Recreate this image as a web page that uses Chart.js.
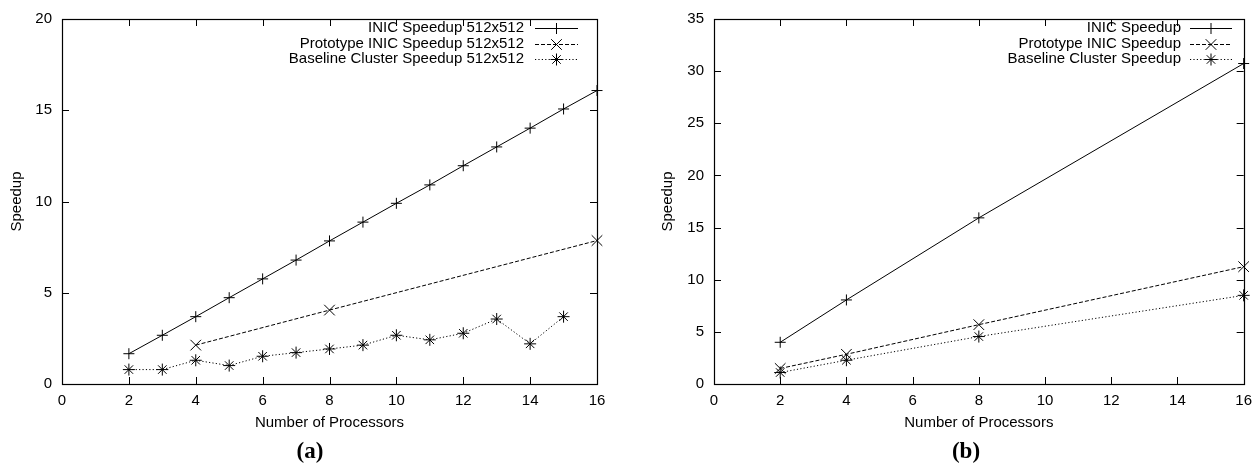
<!DOCTYPE html>
<html>
<head>
<meta charset="utf-8">
<script src="https://cdn.jsdelivr.net/npm/chart.js@4/dist/chart.umd.min.js"></script>
<style>
  html, body { margin:0; padding:0; background:#fff; }
  #wrap { position:relative; width:1260px; height:467px; }
  .box { position:absolute; top:0; width:630px; height:467px; }
  .cap { position:absolute; font-family:"Liberation Serif","Times New Roman",serif; font-weight:bold; font-size:23px; color:#000; transform:translate(-50%,-50%); white-space:nowrap; }
</style>
</head>
<body>
<div id="wrap">
  <div class="box" style="left:0"><canvas id="ca" width="630" height="467"></canvas></div>
  <div class="box" style="left:630px"><canvas id="cb" width="630" height="467"></canvas></div>
  <div class="cap" style="left:310px; top:451px">(a)</div>
  <div class="cap" style="left:966px; top:451px">(b)</div>
</div>
<script>
// ---- Data: chart (a) ----
const procsA = [2,3,4,5,6,7,8,9,10,11,12,13,14,15,16];
const inicA = [1.66,2.67,3.69,4.73,5.76,6.79,7.84,8.87,9.9,10.91,11.96,12.99,14.02,15.07,16.08];
const protoProcsA = [4,8,16];
const protoA = [2.13,4.05,7.86];
const baseProcsA = [2,3,4,5,6,7,8,9,10,11,12,13,14,15];
const baseA = [0.79,0.79,1.3,1.01,1.52,1.72,1.92,2.13,2.67,2.42,2.78,3.56,2.2,3.69];
const labelsA = ['INIC Speedup 512x512','Prototype INIC Speedup 512x512','Baseline Cluster Speedup 512x512'];

// ---- Data: chart (b) ----
const procsB = [2,4,8,16];
const inicB = [4.0,8.06,15.93,30.73];
const protoB = [1.49,2.85,5.69,11.25];
const baseB = [1.1,2.28,4.55,8.5];
const labelsB = ['INIC Speedup','Prototype INIC Speedup','Baseline Cluster Speedup'];

// ---- Axis ticks ----
const xTickStep = 2, xMin = 0, xMax = 16;
const yTickStep = 5;
const yMaxA = 20, yMaxB = 35;
const xTitle = 'Number of Processors';
const yTitle = 'Speedup';

const FONT = "'Liberation Sans', Arial, Helvetica, sans-serif";
const FS = 15;
Chart.defaults.font.family = FONT;
Chart.defaults.font.size = FS;
Chart.defaults.color = '#000';

function pts(xs, ys){ return xs.map((x,i)=>({x:x, y:ys[i]})); }

const styles = [
  {pointStyle:'cross', pointRadius:5.5, borderDash:[]},
  {pointStyle:'crossRot', pointRadius:7.5, borderDash:[4,2]},
  {pointStyle:'star', pointRadius:6, borderDash:[1.2,2.2]}
];

function mkDataset(label, data, s){
  return {
    label, data, showLine:true, borderColor:'#000', backgroundColor:'rgba(0,0,0,0)',
    borderWidth:1, borderDash:s.borderDash, pointStyle:s.pointStyle, pointRadius:s.pointRadius,
    pointHoverRadius:s.pointRadius, pointBorderColor:'#000', pointBorderWidth:1, clip:false,
    tension:0
  };
}

function drawMarker(ctx, style, r, x, y){
  ctx.save();
  ctx.strokeStyle = '#000'; ctx.lineWidth = 1; ctx.setLineDash([]);
  ctx.beginPath();
  const d = r*Math.SQRT1_2;
  if (style === 'cross' || style === 'star'){
    ctx.moveTo(x-r,y); ctx.lineTo(x+r,y); ctx.moveTo(x,y-r); ctx.lineTo(x,y+r);
  }
  if (style === 'crossRot' || style === 'star'){
    ctx.moveTo(x-d,y-d); ctx.lineTo(x+d,y+d); ctx.moveTo(x-d,y+d); ctx.lineTo(x+d,y-d);
  }
  ctx.stroke();
  ctx.restore();
}

// Gnuplot-like frame with inward ticks on all sides
const framePlugin = {
  id:'frame',
  beforeDatasetsDraw(chart){
    const {ctx, chartArea:a, scales:{x, y}} = chart;
    ctx.save();
    ctx.strokeStyle = '#000'; ctx.lineWidth = 1.2;
    ctx.strokeRect(Math.round(a.left)+0.5, Math.round(a.top)+0.5, Math.round(a.right-a.left), Math.round(a.bottom-a.top));
    ctx.lineWidth = 1;
    const tl = 7;
    ctx.beginPath();
    x.ticks.forEach(t=>{
      const px = Math.round(x.getPixelForValue(t.value))+0.5;
      ctx.moveTo(px, a.bottom); ctx.lineTo(px, a.bottom-tl);
      ctx.moveTo(px, a.top); ctx.lineTo(px, a.top+tl);
    });
    y.ticks.forEach(t=>{
      const py = Math.round(y.getPixelForValue(t.value))+0.5;
      ctx.moveTo(a.left, py); ctx.lineTo(a.left+tl, py);
      ctx.moveTo(a.right, py); ctx.lineTo(a.right-tl, py);
    });
    ctx.stroke();
    ctx.restore();
  }
};

// Gnuplot-like key: right-aligned text, sample line with marker
function keyPlugin(textRight, sx1, sx2, rows){
  return {
    id:'gkey',
    afterDatasetsDraw(chart){
      const ctx = chart.ctx;
      chart.data.datasets.forEach((ds,i)=>{
        const yy = rows[i];
        ctx.save();
        ctx.font = FS + 'px ' + FONT;
        ctx.fillStyle = '#000';
        ctx.textAlign = 'right'; ctx.textBaseline = 'middle';
        ctx.fillText(ds.label, textRight, yy);
        ctx.strokeStyle = '#000'; ctx.lineWidth = 1;
        ctx.setLineDash(ds.borderDash || []);
        ctx.beginPath(); ctx.moveTo(sx1, yy+0.5); ctx.lineTo(sx2, yy+0.5); ctx.stroke();
        ctx.restore();
        drawMarker(ctx, ds.pointStyle, ds.pointRadius, (sx1+sx2)/2, yy+0.5);
      });
    }
  };
}

function makeChart(id, datasets, yMax, pad, yAxisW, key){
  return new Chart(document.getElementById(id), {
    type:'scatter',
    data:{datasets},
    options:{
      responsive:false, animation:false, events:[],
      layout:{padding:pad, autoPadding:false},
      plugins:{legend:{display:false}, tooltip:{enabled:false}},
      scales:{
        x:{
          type:'linear', min:xMin, max:xMax,
          ticks:{stepSize:xTickStep, padding:8, font:{size:FS}, color:'#000', maxRotation:0},
          grid:{display:false, drawTicks:false}, border:{display:false},
          title:{display:true, text:xTitle, font:{size:FS}, color:'#000', padding:0},
          afterFit(s){ s.height = 48; }
        },
        y:{
          type:'linear', min:0, max:yMax,
          ticks:{stepSize:yTickStep, padding:10, font:{size:FS}, color:'#000'},
          grid:{display:false, drawTicks:false}, border:{display:false},
          title:{display:true, text:yTitle, font:{size:FS}, color:'#000', padding:0},
          afterFit(s){ s.width = yAxisW; }
        }
      }
    },
    plugins:[framePlugin, key]
  });
}

makeChart('ca', [
  mkDataset(labelsA[0], pts(procsA, inicA), styles[0]),
  mkDataset(labelsA[1], pts(protoProcsA, protoA), styles[1]),
  mkDataset(labelsA[2], pts(baseProcsA, baseA), styles[2])
], yMaxA, {left:8, right:33, top:15, bottom:35}, 54, keyPlugin(524, 535, 578, [28,44,59]));

makeChart('cb', [
  mkDataset(labelsB[0], pts(procsB, inicB), styles[0]),
  mkDataset(labelsB[1], pts(procsB, protoB), styles[1]),
  mkDataset(labelsB[2], pts(procsB, baseB), styles[2])
], yMaxB, {left:29, right:10, top:15, bottom:35}, 55, keyPlugin(551, 560, 602, [28,44,59]));
</script>
</body>
</html>
